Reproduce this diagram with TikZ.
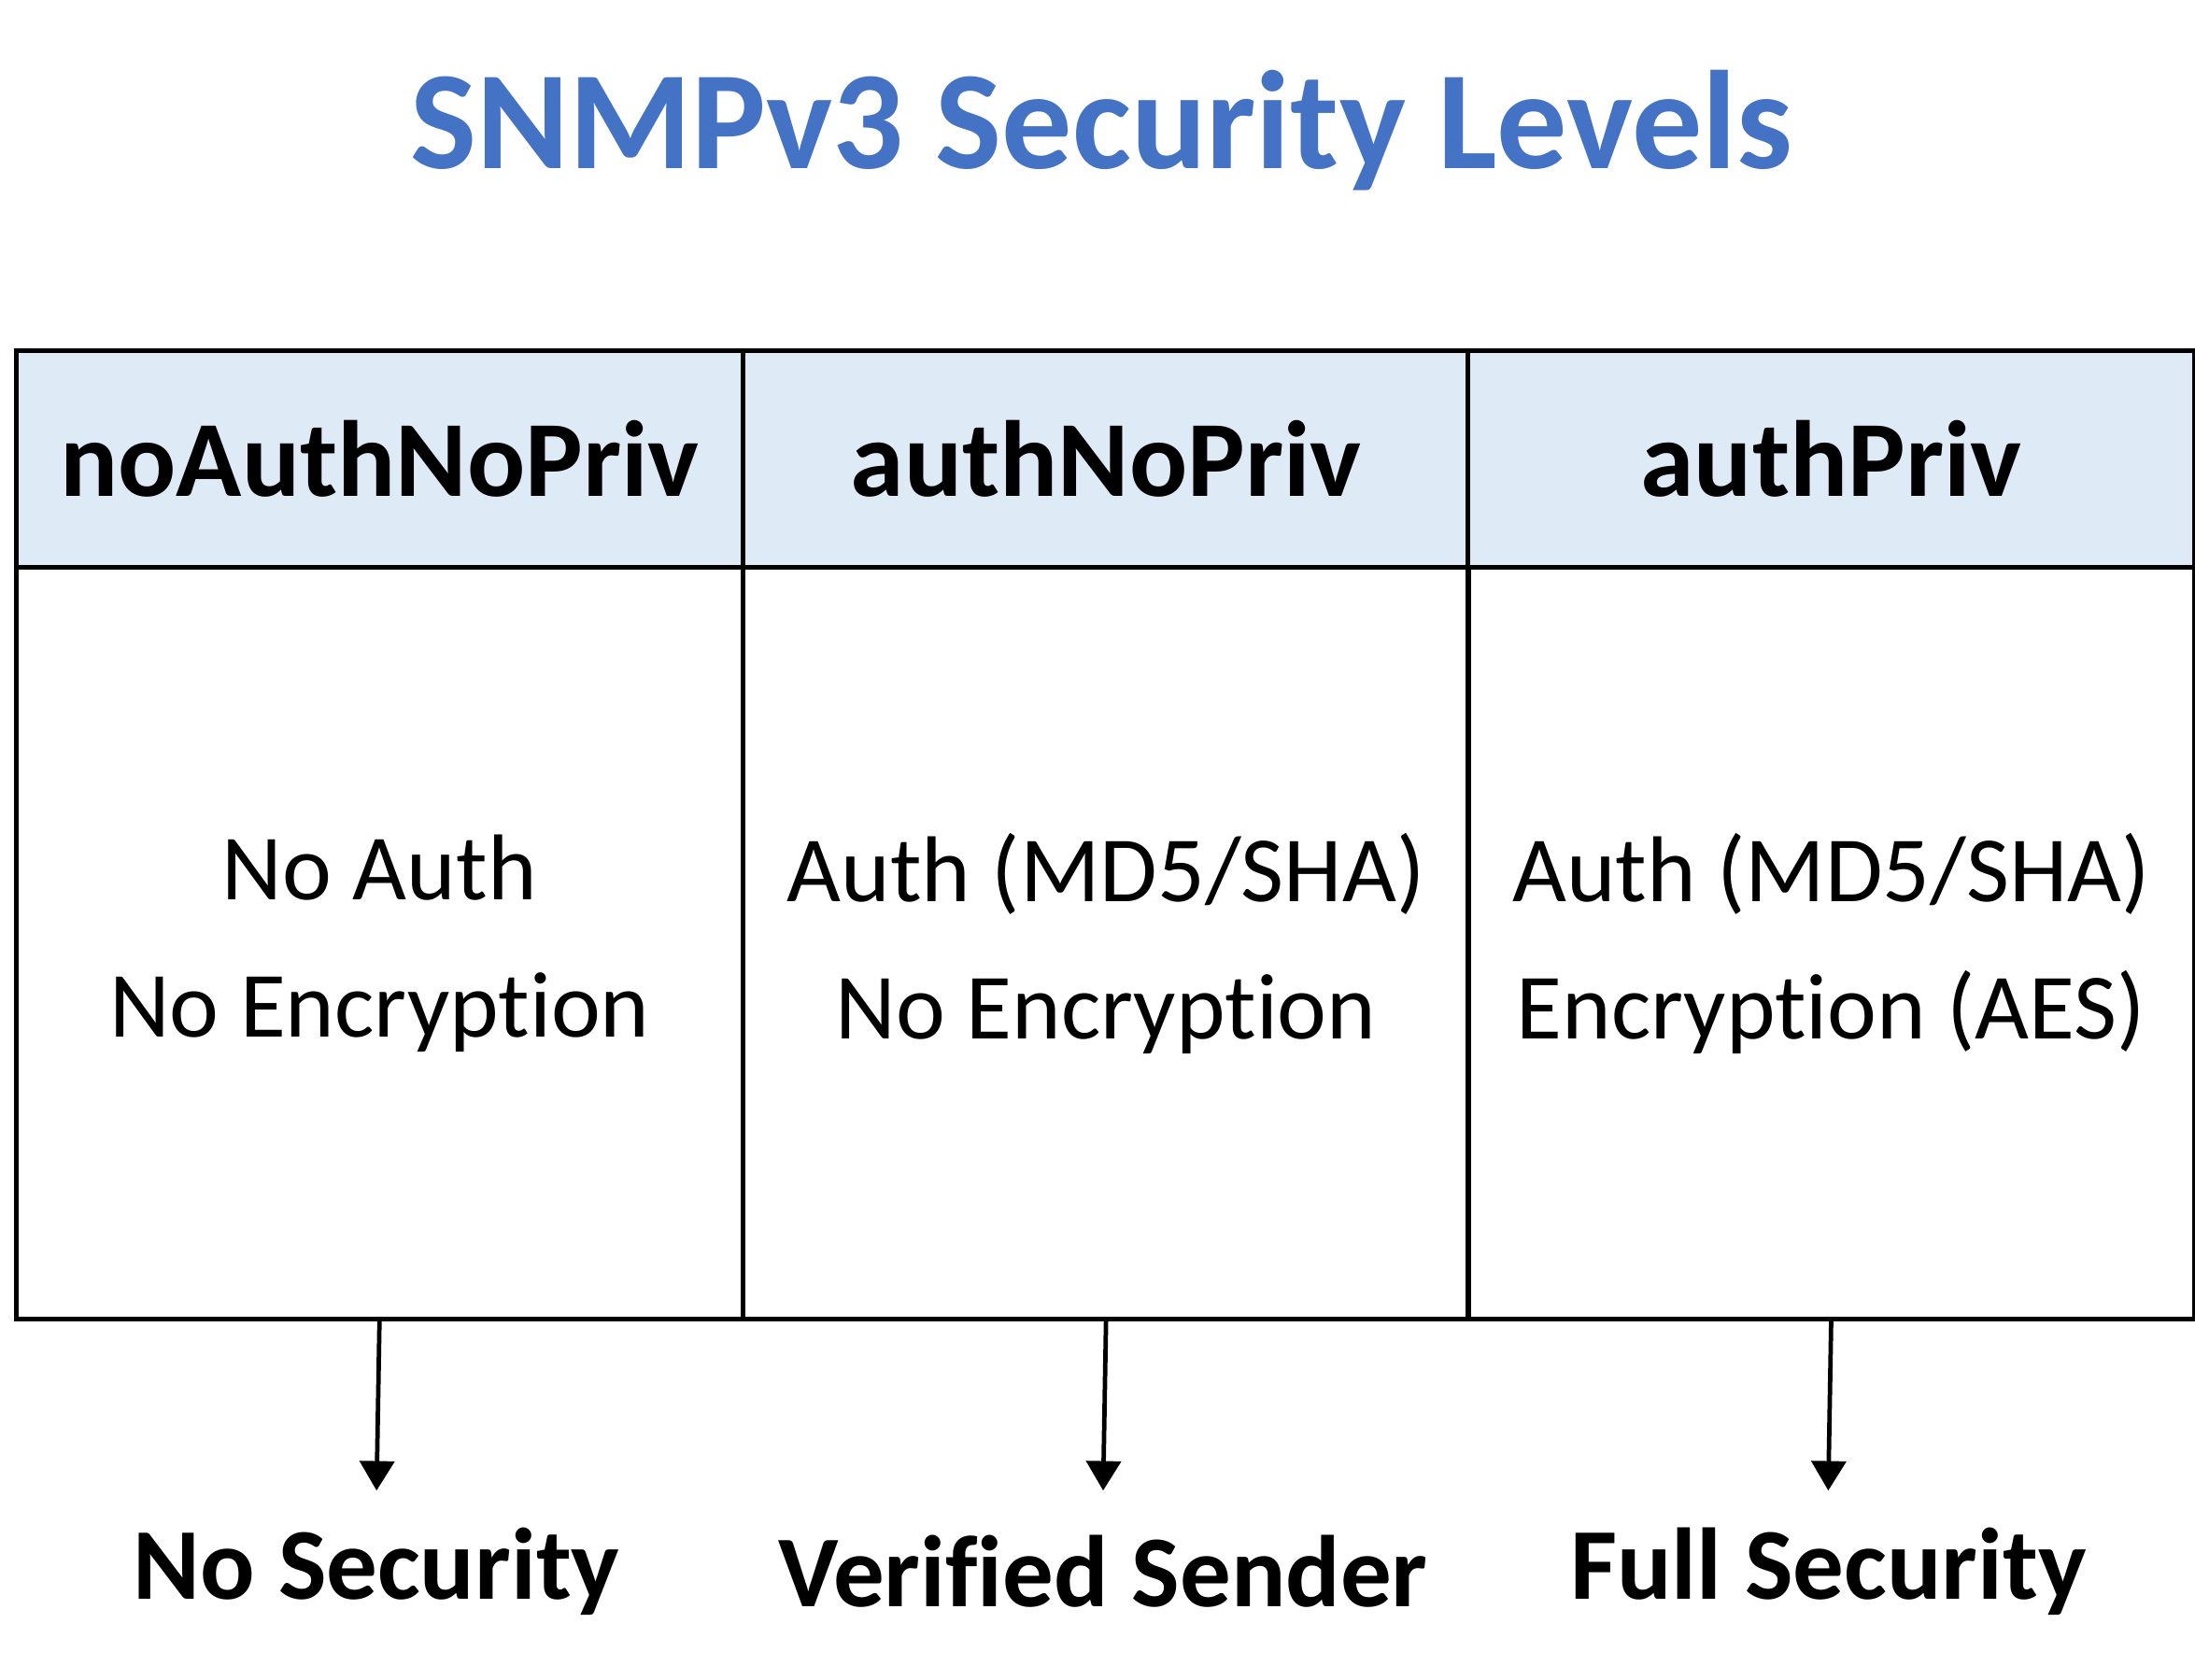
\documentclass[tikz,border=0pt]{standalone}
\usepackage{fontspec}
\setmainfont{Carlito}[Ligatures=NoCommon]
\usetikzlibrary{arrows.meta}
\definecolor{hdr}{HTML}{DEEAF6}
\definecolor{ttl}{HTML}{4472C4}
\tikzset{
 cell/.style={draw=black,line width=0.9pt,minimum width=5.19cm,inner sep=0pt,anchor=north west,align=center},
 hcell/.style={cell,fill=hdr,minimum height=1.55cm,font=\fontsize{22}{26}\selectfont\bfseries},
 bcell/.style={cell,minimum height=5.37cm,font=\fontsize{19}{28}\selectfont},
 lbl/.style={font=\fontsize{20.7}{26}\selectfont\bfseries},
 arr/.style={line width=0.9pt,-{Triangle[length=6pt,width=7pt]}}
}
\begin{document}
\begin{tikzpicture}
\useasboundingbox (0,0) rectangle (15.68,12);
\node[font=\fontsize{28.5}{34}\selectfont\bfseries,text=ttl] (title) at (7.87,11.07) {SNMPv3 Security Levels};
\node[hcell] (h1) at (0.10,9.51) {noAuthNoPriv};
\node[hcell] (h2) at (5.29,9.51) {authNoPriv};
\node[hcell] (h3) at (10.47,9.51) {authPriv};
\node[bcell] (b1) at (0.10,7.96) {No Auth\\No Encryption};
\node[bcell] (b2) at (5.29,7.96) {Auth (MD5/SHA)\\No Encryption};
\node[bcell] (b3) at (10.47,7.96) {Auth (MD5/SHA)\\Encryption (AES)};
\coordinate (e1) at (2.69,1.35);
\coordinate (e2) at (7.88,1.35);
\coordinate (e3) at (13.06,1.35);
\draw[arr] (b1.south) -- (e1);
\draw[arr] (b2.south) -- (e2);
\draw[arr] (b3.south) -- (e3);
\node[lbl] (l1) at (2.69,0.77) {No Security};
\node[lbl] (l2) at (7.88,0.77) {Verified Sender};
\node[lbl] (l3) at (13.06,0.77) {Full Security};
\end{tikzpicture}
\end{document}
